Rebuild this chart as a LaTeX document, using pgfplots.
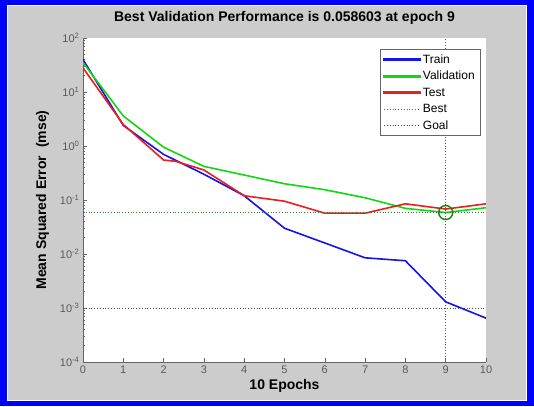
\documentclass[border=0pt]{standalone}
\usepackage{pgfplots}
\pgfplotsset{compat=1.18}
\usepackage{fontspec}
\setmainfont{Liberation Sans}
\definecolor{figgray}{RGB}{204,204,204}
\definecolor{mblue}{RGB}{20,20,230}
\definecolor{mgreen}{RGB}{20,215,20}
\definecolor{mred}{RGB}{235,30,30}
\definecolor{dgreen}{RGB}{20,130,20}
\definecolor{ticktxt}{RGB}{90,90,90}
\begin{document}
\begin{tikzpicture}[x=1pt,y=1pt]
\fill[blue] (0,0) rectangle (534,406);
\fill[white] (7,5) rectangle (527,401);
\fill[figgray] (8,6) rectangle (526,400);
\begin{axis}[
  at={(83pt,44pt)}, anchor=south west,
  scale only axis, width=403pt, height=324pt,
  ymode=log, xmin=0, xmax=10, ymin=1e-4, ymax=1e2,
  axis background/.style={fill=white},
  axis x line*=bottom, axis y line*=left,
  axis line style={-, draw=black!60, line width=0.8pt},
  tick align=inside,
  tick style={black!60, line width=0.6pt},
  major tick length=4pt, minor tick length=2pt,
  xtick={0,1,...,10},
  ytick={1e-4,1e-3,1e-2,1e-1,1e0,1e1,1e2},
  yticklabels={10\textsuperscript{-4},10\textsuperscript{-3},10\textsuperscript{-2},10\textsuperscript{-1},10\textsuperscript{0},10\textsuperscript{1},10\textsuperscript{2}},
  /pgf/number format/assume math mode=true,
  ticklabel style={font=\fontsize{11}{13}\selectfont, text=ticktxt},
  title={\textbf{Best Validation Performance is 0.058603 at epoch 9}},
  title style={font=\fontsize{14}{16}\selectfont, at={(0.5,1)}, yshift=4pt},
  xlabel={\textbf{10 Epochs}},
  ylabel={\textbf{Mean Squared Error\ \ (mse)}},
  label style={font=\fontsize{14}{16}\selectfont},
  xlabel style={yshift=1pt},
  ylabel style={yshift=4pt},
  legend style={at={(0.985,0.965)}, anchor=north east, draw=black!60, fill=white,
    font=\fontsize{12}{14}\selectfont, row sep=2.5pt, inner sep=3pt},
  legend cell align=left,
]
\addplot[mblue, line width=1.6pt, legend image code/.code={\fill[mblue] (0pt,-0.8pt) rectangle (36pt,0.8pt);}] coordinates {(0,40) (1,2.4) (2,0.7) (3,0.3) (4,0.12) (5,0.03) (6,0.016) (7,0.0085) (8,0.0075) (9,0.0013) (10,0.00065)};
\addlegendentry{Train}
\addplot[mgreen, line width=1.6pt, legend image code/.code={\fill[mgreen] (0pt,-0.8pt) rectangle (36pt,0.8pt);}] coordinates {(0,35) (1,3.6) (2,0.95) (3,0.42) (4,0.29) (5,0.2) (6,0.155) (7,0.11) (8,0.07) (9,0.058603) (10,0.072)};
\addlegendentry{Validation}
\addplot[mred, line width=1.6pt, legend image code/.code={\fill[mred] (0pt,-0.8pt) rectangle (36pt,0.8pt);}] coordinates {(0,28) (1,2.5) (2,0.55) (2.3,0.52) (3,0.36) (4,0.12) (5,0.095) (6,0.057) (7,0.057) (8,0.085) (9,0.068) (10,0.085)};
\addlegendentry{Test}
\addplot[dgreen!80!gray, dotted, line width=0.8pt, legend image code/.code={\draw[black!60, dotted, line width=0.8pt] (0pt,0pt) -- (36pt,0pt);}] coordinates {(0,0.058603) (10,0.058603)};
\addlegendentry{Best}
\addplot[black!70, dotted, line width=0.8pt, legend image code/.code={\draw[black!70, dotted, line width=0.8pt] (0pt,0pt) -- (36pt,0pt);}] coordinates {(0,0.001) (10,0.001)};
\addlegendentry{Goal}
\addplot[dgreen!80!gray, dotted, line width=0.8pt, forget plot] coordinates {(9,1e-4) (9,1e2)};
\addplot[dgreen, only marks, mark=o, mark size=7pt, line width=1.4pt, forget plot] coordinates {(9,0.058603)};
\end{axis}
\end{tikzpicture}
\end{document}
